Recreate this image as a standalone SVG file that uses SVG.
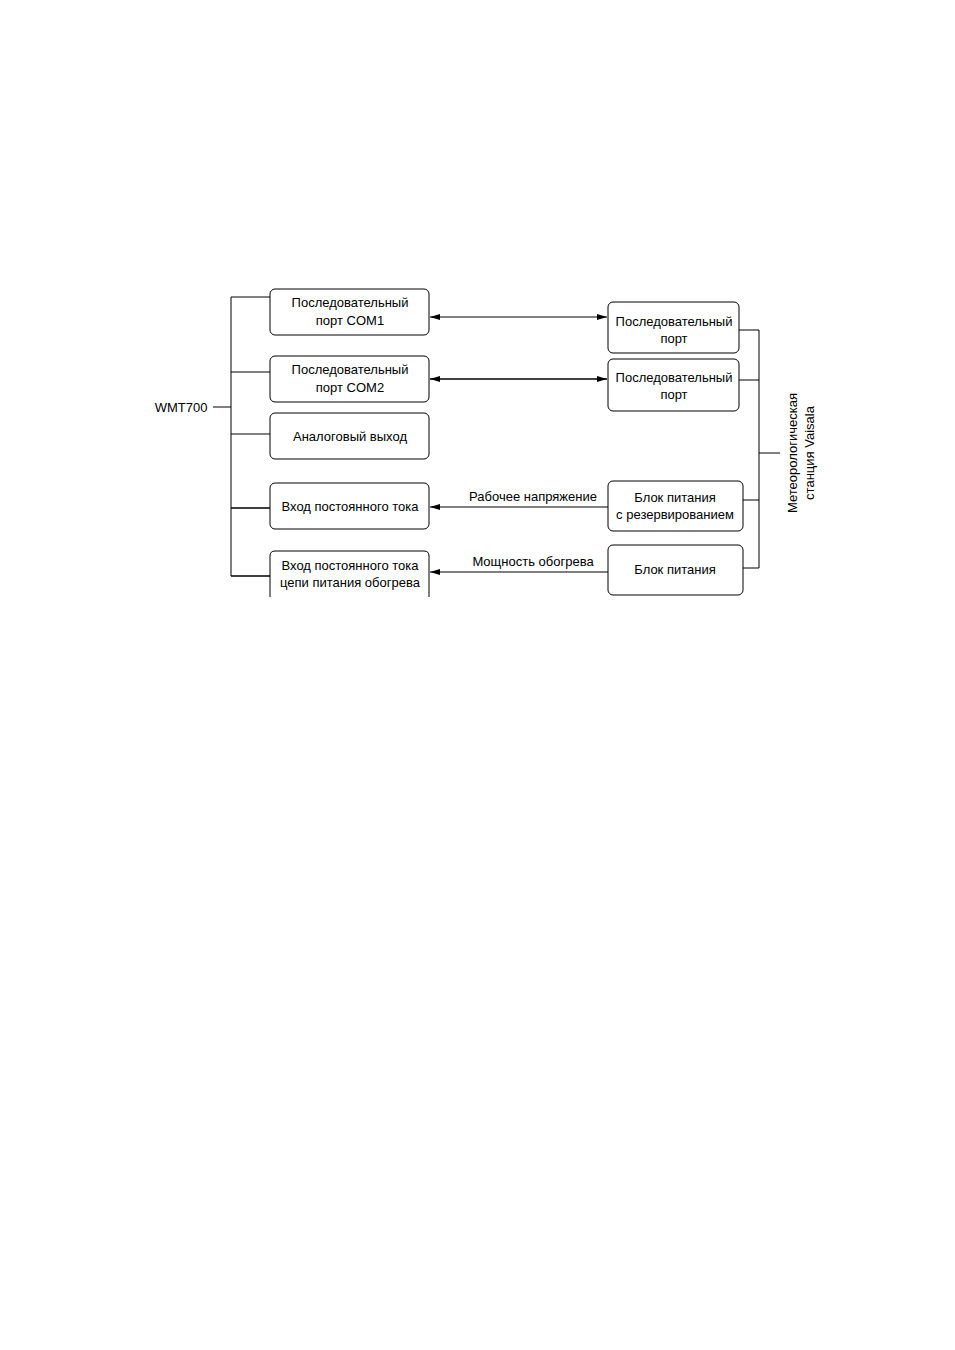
<svg xmlns="http://www.w3.org/2000/svg" width="955" height="1350" viewBox="0 0 955 1350">
<style>
text{font-family:"Liberation Sans",Arial,sans-serif;font-size:13px;fill:#000;text-anchor:middle}
.box{fill:#fff;stroke:#000;stroke-width:1}
.ln{fill:none;stroke:#000;stroke-width:1}
.th{fill:none;stroke:#000;stroke-width:1.6}
</style>
<defs>
<marker id="ah" viewBox="0 0 10 6" refX="10" refY="3" markerWidth="10" markerHeight="6" markerUnits="userSpaceOnUse" orient="auto-start-reverse">
<path d="M0,0 L10,3 L0,6 Z" fill="#000"/>
</marker>
</defs>
<rect width="955" height="1350" fill="#fff"/>
<g id="connectors">
<path class="ln" d="M231,297 V576 M231,297 H270 M231,372 H270 M231,434 H270 M213,407 H231"/>
<path class="th" d="M231,508 H270 M231,576 H270"/>
<path class="ln" d="M759,330 V568 M739,330 H759 M739,380 H759 M743,500 H759 M743,568 H759 M759,453 H780"/>
<line class="ln" x1="430" y1="317" x2="607" y2="317" marker-start="url(#ah)" marker-end="url(#ah)"/>
<line class="th" x1="430" y1="379" x2="607" y2="379" marker-start="url(#ah)" marker-end="url(#ah)"/>
<line class="ln" x1="608" y1="507" x2="430" y2="507" marker-end="url(#ah)"/>
<line class="ln" x1="608" y1="572" x2="430" y2="572" marker-end="url(#ah)"/>
<text x="533" y="501">Рабочее напряжение</text>
<text x="533" y="566">Мощность обогрева</text>
</g>
<g id="wmt700"><text x="181" y="412">WMT700</text></g>
<g id="com1"><rect class="box" x="270" y="289" width="159" height="46" rx="5"/><text x="350" y="307">Последовательный</text><text x="350" y="325">порт COM1</text></g>
<g id="com2"><rect class="box" x="270" y="356" width="159" height="46" rx="5"/><text x="350" y="374">Последовательный</text><text x="350" y="392">порт COM2</text></g>
<g id="analog"><rect class="box" x="270" y="413" width="159" height="46" rx="5"/><text x="350" y="441">Аналоговый выход</text></g>
<g id="dcin"><rect class="box" x="270" y="483" width="159" height="46" rx="5"/><text x="350" y="511">Вход постоянного тока</text></g>
<g id="dcheat"><path class="box" d="M270,597 V556 Q270,551 275,551 H424 Q429,551 429,556 V597"/><text x="350" y="570">Вход постоянного тока</text><text x="350" y="587">цепи питания обогрева</text></g>
<g id="sp1"><rect class="box" x="608" y="302" width="131" height="51" rx="5"/><text x="674" y="326">Последовательный</text><text x="674" y="343">порт</text></g>
<g id="sp2"><rect class="box" x="608" y="359" width="131" height="52" rx="5"/><text x="674" y="382">Последовательный</text><text x="674" y="399">порт</text></g>
<g id="psu1"><rect class="box" x="608" y="481" width="135" height="50" rx="5"/><text x="675" y="502">Блок питания</text><text x="675" y="519">с резервированием</text></g>
<g id="psu2"><rect class="box" x="608" y="545" width="135" height="50" rx="5"/><text x="675" y="574">Блок питания</text></g>
<g id="station"><text transform="translate(797,453) rotate(-90)">Метеорологическая</text><text transform="translate(814,453) rotate(-90)">станция Vaisala</text></g>
</svg>
